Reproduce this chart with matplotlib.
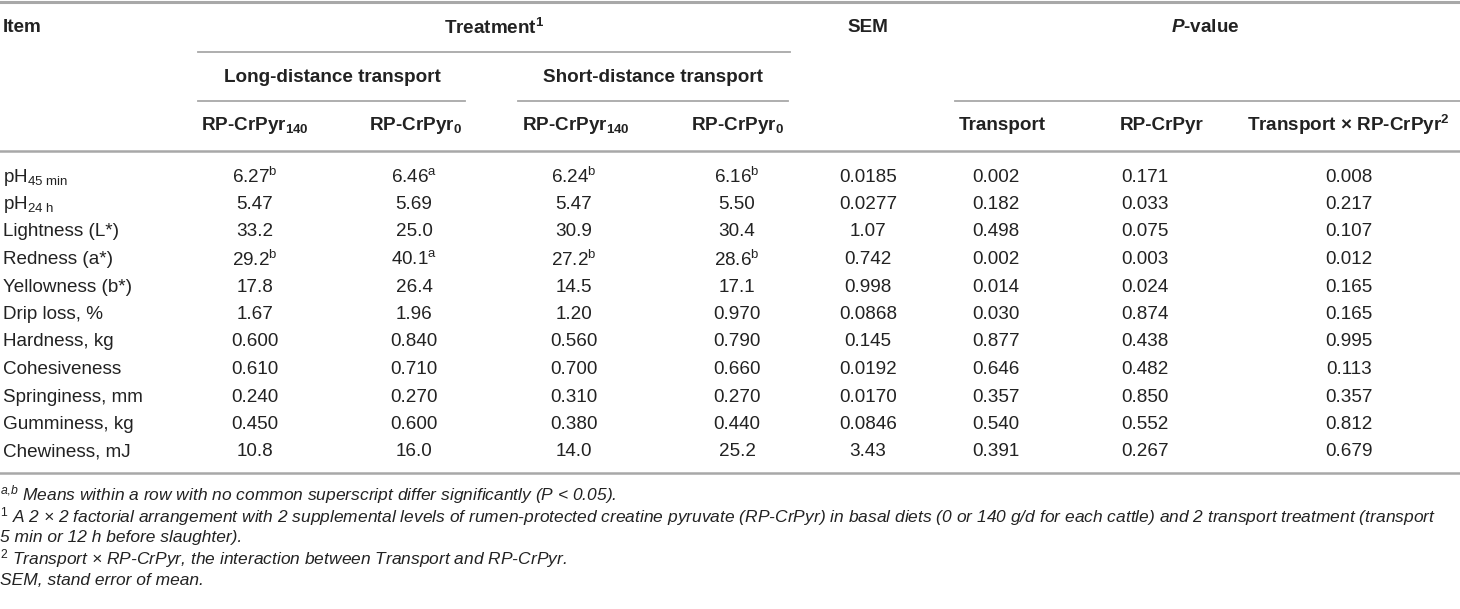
import matplotlib
matplotlib.use('Agg')
import matplotlib.pyplot as plt

plt.rcParams['font.family'] = 'Liberation Sans'
plt.rcParams['mathtext.fontset'] = 'custom'
plt.rcParams['mathtext.rm'] = 'Liberation Sans'
plt.rcParams['mathtext.it'] = 'Liberation Sans:italic'
plt.rcParams['mathtext.bf'] = 'Liberation Sans:bold'
plt.rcParams['mathtext.bfit'] = 'Liberation Sans:italic:bold'

# table content
items = [r'pH$_{\mathrm{45\ min}}$', r'pH$_{\mathrm{24\ h}}$', 'Lightness (L*)', 'Redness (a*)',
         'Yellowness (b*)', 'Drip loss, %', 'Hardness, kg', 'Cohesiveness',
         'Springiness, mm', 'Gumminess, kg', 'Chewiness, mJ']
long_140 = ['6.27$^{\\mathrm{b}}$', '5.47', '33.2', '29.2$^{\\mathrm{b}}$', '17.8', '1.67',
            '0.600', '0.610', '0.240', '0.450', '10.8']
long_0 = ['6.46$^{\\mathrm{a}}$', '5.69', '25.0', '40.1$^{\\mathrm{a}}$', '26.4', '1.96',
          '0.840', '0.710', '0.270', '0.600', '16.0']
short_140 = ['6.24$^{\\mathrm{b}}$', '5.47', '30.9', '27.2$^{\\mathrm{b}}$', '14.5', '1.20',
             '0.560', '0.700', '0.310', '0.380', '14.0']
short_0 = ['6.16$^{\\mathrm{b}}$', '5.50', '30.4', '28.6$^{\\mathrm{b}}$', '17.1', '0.970',
           '0.790', '0.660', '0.270', '0.440', '25.2']
sem = ['0.0185', '0.0277', '1.07', '0.742', '0.998', '0.0868', '0.145', '0.0192',
       '0.0170', '0.0846', '3.43']
p_transport = ['0.002', '0.182', '0.498', '0.002', '0.014', '0.030', '0.877', '0.646',
               '0.357', '0.540', '0.391']
p_crpyr = ['0.171', '0.033', '0.075', '0.003', '0.024', '0.874', '0.438', '0.482',
           '0.850', '0.552', '0.267']
p_inter = ['0.008', '0.217', '0.107', '0.012', '0.165', '0.165', '0.995', '0.113',
           '0.357', '0.812', '0.679']

footnotes = [
    r'$^{\mathit{a{,}b}}$ Means within a row with no common superscript differ significantly ($P$ < 0.05).',
    r'$^{1}$ A 2 × 2 factorial arrangement with 2 supplemental levels of rumen-protected creatine pyruvate (RP-CrPyr) in basal diets (0 or 140 g/d for each cattle) and 2 transport treatment (transport',
    '5 min or 12 h before slaughter).',
    r'$^{2}$ Transport × RP-CrPyr, the interaction between Transport and RP-CrPyr.',
    'SEM, stand error of mean.',
]

W, H = 1460, 609
fig = plt.figure(figsize=(W / 100, H / 100), dpi=100)
ax = fig.add_axes([0, 0, 1, 1])
ax.set_xlim(0, W)
ax.set_ylim(H, 0)
ax.axis('off')

txt = '#222222'
rule = '#a8a8a8'
fs = 13.6

# rules
ax.plot([0, W], [1.5, 1.5], color=rule, lw=2.2)
ax.plot([198, 790], [52, 52], color=rule, lw=1.3)
ax.plot([198, 465], [101, 101], color=rule, lw=1.3)
ax.plot([518, 788], [101, 101], color=rule, lw=1.3)
ax.plot([955, W], [101, 101], color=rule, lw=1.3)
ax.plot([0, W], [151, 151], color=rule, lw=1.8)
ax.plot([0, W], [473, 473], color=rule, lw=1.8)

# headers
hd = dict(fontsize=fs, fontweight='bold', color=txt, va='center')
ax.text(3, 28, 'Item', ha='left', **hd)
ax.text(494, 28, r'Treatment$^{\mathbf{1}}$', ha='center', **hd)
ax.text(868, 28, 'SEM', ha='center', **hd)
ax.text(1205, 28, r'$\mathbfit{P}$-value', ha='center', **hd)
ax.text(332, 77, 'Long-distance transport', ha='center', **hd)
ax.text(653, 77, 'Short-distance transport', ha='center', **hd)
sub_hdr = [r'RP-CrPyr$_{\mathbf{140}}$', r'RP-CrPyr$_{\mathbf{0}}$',
           r'RP-CrPyr$_{\mathbf{140}}$', r'RP-CrPyr$_{\mathbf{0}}$',
           'Transport', 'RP-CrPyr', r'Transport × RP-CrPyr$^{\mathbf{2}}$']
hx = [255, 415, 576, 737, 1002, 1162, 1348]
for x, s in zip(hx, sub_hdr):
    ax.text(x, 125, s, ha='center', **hd)

# body
cols = [long_140, long_0, short_140, short_0, sem, p_transport, p_crpyr, p_inter]
cx = [255, 414, 574, 737, 868, 996, 1145, 1349]
for i, name in enumerate(items):
    y = 177 + 27.5 * i
    ax.text(3, y, name, ha='left', va='center', fontsize=fs, color=txt)
    for x, col in zip(cx, cols):
        ax.text(x, y, col[i], ha='center', va='center', fontsize=fs, color=txt)

# footnotes
for j, s in enumerate(footnotes):
    ax.text(0, 495 + 21.3 * j, s, ha='left', va='center', fontsize=12.55,
            style='italic', color=txt)

fig.savefig('out.png', dpi=100)
